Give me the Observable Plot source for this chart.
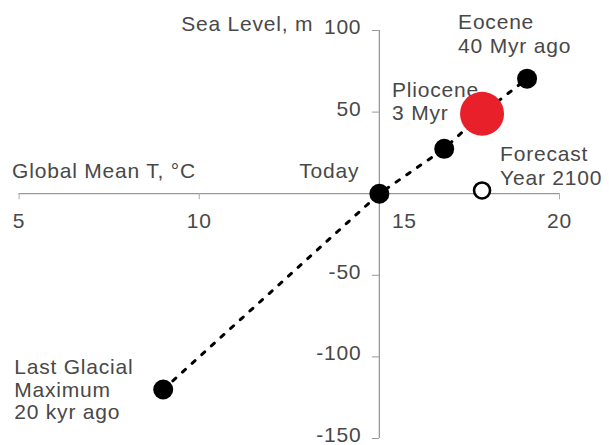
<!DOCTYPE html>
<html><head><meta charset="utf-8">
<script src="https://cdn.jsdelivr.net/npm/d3@7"></script>
<script src="https://cdn.jsdelivr.net/npm/@observablehq/plot@0.6"></script>
<style>
html,body{margin:0;padding:0;background:#fff;}
#chart svg text{letter-spacing:0.8px;}
</style></head><body><div id="chart"></div>
<script>
// Data
const eras = ["Last Glacial Maximum", "Today", "Intermediate", "Pliocene", "Eocene", "Forecast 2100"];
const tempC = [9, 15, 16.8, 17.85, 19.1, 17.85];
const seaLevelM = [-120, 0, 27.5, 49, 70.5, 2];
const xTicks = [5, 10, 15, 20];
const yTicks = [100, 50, -50, -100, -150];
const xTitle = "Global Mean T, °C";
const yTitle = "Sea Level, m";

const pts = eras.map((e, i) => ({era: e, t: tempC[i], sl: seaLevelM[i]}));
const byEra = (name) => pts.filter(d => d.era === name);
const trend = pts.filter(d => d.era !== "Forecast 2100");

const txt = {fontSize: 21, fill: "#484848", lineHeight: 1.12};

const chart = Plot.plot({
  width: 609, height: 445,
  marginLeft: 18.6, marginRight: 50, marginTop: 30, marginBottom: 7,
  x: {domain: [5, 20], axis: null},
  y: {domain: [-150, 100], axis: null},
  style: {fontFamily: "'Liberation Sans', Arial, Helvetica, sans-serif", fontSize: "21px", color: "#484848", background: "white"},
  marks: [
    // axes
    Plot.ruleY([0], {x1: 5, x2: 20, stroke: "#999", strokeWidth: 1.3}),
    Plot.ruleX([15], {y1: -150, y2: 100, stroke: "#999", strokeWidth: 1.3}),
    Plot.ruleX(xTicks, {x: d => d, y1: 0, y2: 0, insetBottom: -6, stroke: "#aaa"}),
    Plot.ruleY(yTicks, {y: d => d, x1: 15, x2: 15, insetLeft: -7, stroke: "#999"}),
    Plot.text(xTicks.filter(d => d !== 15), {x: d => d, y: 0, dy: 27, text: d => String(d), ...txt}),
    Plot.text(xTicks.filter(d => d === 15), {x: d => d, y: 0, dy: 27, dx: 25, text: d => String(d), ...txt}),
    Plot.text(yTicks, {x: 15, y: d => d, dx: -18, dy: -4, textAnchor: "end", text: d => String(d), ...txt}),
    Plot.text([xTitle], {x: 5, y: 0, dx: -7, dy: -23, textAnchor: "start", text: d => d, ...txt}),
    Plot.text([yTitle], {x: 15, y: 100, dx: -66, dy: -7, textAnchor: "end", text: d => d, ...txt}),
    // trend line
    Plot.line(trend, {x: "t", y: "sl", stroke: "black", strokeWidth: 3, strokeDasharray: "4,9"}),
    // annotations
    Plot.text(byEra("Last Glacial Maximum"), {x: "t", y: "sl", dx: -149, dy: 0, textAnchor: "start", text: () => "Last Glacial\nMaximum\n20 kyr ago", ...txt, lineHeight: 1.08}),
    Plot.text(byEra("Today"), {x: "t", y: "sl", dx: -20, dy: -23, textAnchor: "end", text: () => "Today", ...txt}),
    Plot.text(byEra("Eocene"), {x: "t", y: "sl", dx: -69, dy: -45, textAnchor: "start", text: () => "Eocene\n40 Myr ago", ...txt}),
    Plot.text(byEra("Pliocene"), {x: "t", y: "sl", dx: -90, dy: -13, textAnchor: "start", text: () => "Pliocene\n3 Myr", ...txt}),
    Plot.text(byEra("Forecast 2100"), {x: "t", y: "sl", dx: 18, dy: -25, textAnchor: "start", text: () => "Forecast\nYear 2100", ...txt}),
    // points
    Plot.dot(trend.filter(d => d.era !== "Pliocene"), {x: "t", y: "sl", r: 10, fill: "black"}),
    Plot.dot(byEra("Pliocene"), {x: "t", y: "sl", r: 22, fill: "#e8202a"}),
    Plot.dot(byEra("Forecast 2100"), {x: "t", y: "sl", r: 8, fill: "white", stroke: "black", strokeWidth: 2.6})
  ]
});
document.getElementById("chart").appendChild(chart);
</script></body></html>
